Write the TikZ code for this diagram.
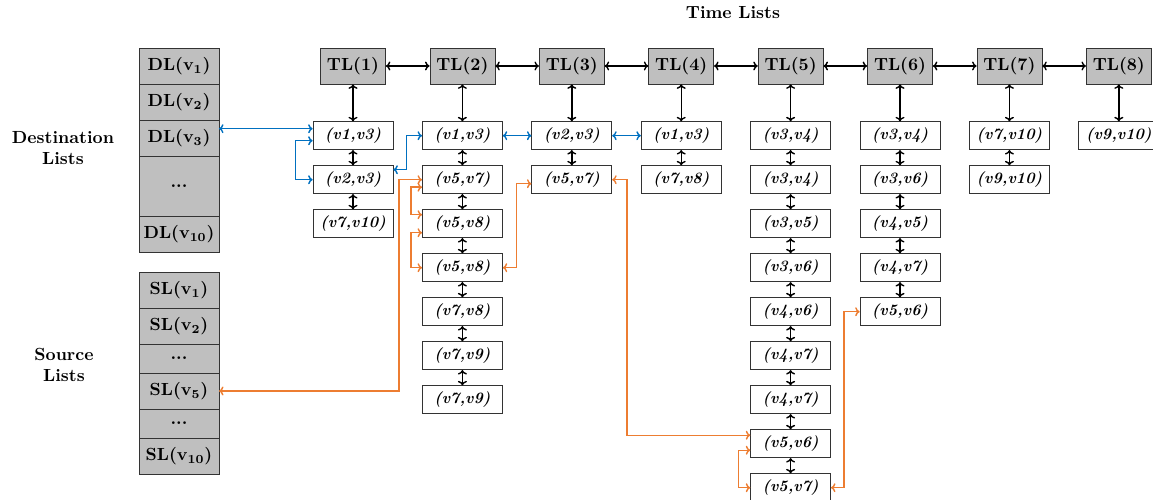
\documentclass[tikz,border=0pt]{standalone}
\usepackage{xcolor}
\usepackage{tikz}
\usetikzlibrary{positioning, arrows.meta}
\definecolor{linkblue}{RGB}{0,112,192}
\definecolor{linkorange}{RGB}{237,125,49}

\begin{document}
\begin{tikzpicture}[
        node distance=0.306cm and 0.874cm,
        tlbox/.style={draw=black!80, fill=gray!50, minimum width=1.3cm, minimum height=0.72cm, inner sep=0pt, font=\bfseries},
        ebox/.style={draw=black!80, minimum width=1.6cm, minimum height=0.56cm, inner sep=0pt, font=\small\bfseries\itshape},
        lbox/.style={draw=black!80, fill=gray!50, minimum width=1.6cm, minimum height=0.72cm, inner sep=0pt, outer sep=0pt, font=\bfseries},
        arrow/.style={<->, >={To[length=0.9mm,width=1.8mm]}, thick},
        blink/.style={arrow, draw=linkblue},
        olink/.style={arrow, draw=linkorange}
    ]
        \useasboundingbox (0,0) rectangle (23.06,-10);

        % Time lists
        \node[font=\bfseries] (title) at (14.66,-0.26) {Time Lists};
        \node[tlbox] (tl1) at (7.06,-1.32) {TL(1)};
        \node[tlbox, right=of tl1] (tl2) {TL(2)};
        \node[tlbox, right=of tl2] (tl3) {TL(3)};
        \node[tlbox, right=of tl3] (tl4) {TL(4)};
        \node[tlbox, right=of tl4] (tl5) {TL(5)};
        \node[tlbox, right=of tl5] (tl6) {TL(6)};
        \node[tlbox, right=of tl6] (tl7) {TL(7)};
        \node[tlbox, right=of tl7] (tl8) {TL(8)};

        % Edges of each time list
        \node[ebox, below=0.74cm of tl1] (e11) {(v1,v3)};
        \node[ebox, below=of e11] (e12) {(v2,v3)};
        \node[ebox, below=of e12] (e13) {(v7,v10)};

        \node[ebox, below=0.74cm of tl2] (e21) {(v1,v3)};
        \node[ebox, below=of e21] (e22) {(v5,v7)};
        \node[ebox, below=of e22] (e23) {(v5,v8)};
        \node[ebox, below=of e23] (e24) {(v5,v8)};
        \node[ebox, below=of e24] (e25) {(v7,v8)};
        \node[ebox, below=of e25] (e26) {(v7,v9)};
        \node[ebox, below=of e26] (e27) {(v7,v9)};

        \node[ebox, below=0.74cm of tl3] (e31) {(v2,v3)};
        \node[ebox, below=of e31] (e32) {(v5,v7)};

        \node[ebox, below=0.74cm of tl4] (e41) {(v1,v3)};
        \node[ebox, below=of e41] (e42) {(v7,v8)};

        \node[ebox, below=0.74cm of tl5] (e51) {(v3,v4)};
        \node[ebox, below=of e51] (e52) {(v3,v4)};
        \node[ebox, below=of e52] (e53) {(v3,v5)};
        \node[ebox, below=of e53] (e54) {(v3,v6)};
        \node[ebox, below=of e54] (e55) {(v4,v6)};
        \node[ebox, below=of e55] (e56) {(v4,v7)};
        \node[ebox, below=of e56] (e57) {(v4,v7)};
        \node[ebox, below=of e57] (e58) {(v5,v6)};
        \node[ebox, below=of e58] (e59) {(v5,v7)};

        \node[ebox, below=0.74cm of tl6] (e61) {(v3,v4)};
        \node[ebox, below=of e61] (e62) {(v3,v6)};
        \node[ebox, below=of e62] (e63) {(v4,v5)};
        \node[ebox, below=of e63] (e64) {(v4,v7)};
        \node[ebox, below=of e64] (e65) {(v5,v6)};

        \node[ebox, below=0.74cm of tl7] (e71) {(v7,v10)};
        \node[ebox, below=of e71] (e72) {(v9,v10)};

        \node[ebox, below=0.74cm of tl8] (e81) {(v9,v10)};

        % Destination and source lists
        \node[font=\bfseries, align=center] (dlabel) at (1.26,-2.96) {Destination\\Lists};
        \node[lbox] (dl1) at (3.58,-1.32) {DL(v\textsubscript{1})};
        \node[lbox, below=0cm of dl1] (dl2) {DL(v\textsubscript{2})};
        \node[lbox, below=0cm of dl2] (dl3) {DL(v\textsubscript{3})};
        \node[lbox, minimum height=1.2cm, below=0cm of dl3] (dldots) {...};
        \node[lbox, below=0cm of dldots] (dl10) {DL(v\textsubscript{10})};

        \node[font=\bfseries, align=center] (slabel) at (1.28,-7.3) {Source\\Lists};
        \node[lbox, below=0.4cm of dl10] (sl1) {SL(v\textsubscript{1})};
        \node[lbox, below=0cm of sl1] (sl2) {SL(v\textsubscript{2})};
        \node[lbox, minimum height=0.58cm, below=0cm of sl2] (sldotsa) {...};
        \node[lbox, below=0cm of sldotsa] (sl5) {SL(v\textsubscript{5})};
        \node[lbox, minimum height=0.58cm, below=0cm of sl5] (sldotsb) {...};
        \node[lbox, below=0cm of sldotsb] (sl10) {SL(v\textsubscript{10})};

        % Paths
        \foreach \a/\b in {tl1/tl2, tl2/tl3, tl3/tl4, tl4/tl5, tl5/tl6, tl6/tl7, tl7/tl8,
                tl1/e11, e11/e12, e12/e13,
                tl2/e21, e21/e22, e22/e23, e23/e24, e24/e25, e25/e26, e26/e27,
                tl3/e31, e31/e32, tl4/e41, e41/e42,
                tl5/e51, e51/e52, e52/e53, e53/e54, e54/e55, e55/e56, e56/e57, e57/e58, e58/e59,
                tl6/e61, e61/e62, e62/e63, e63/e64, e64/e65,
                tl7/e71, e71/e72, tl8/e81}
            \draw[arrow] (\a) -- (\b);

        % Destination links
        \coordinate (b1) at ([yshift=1.4mm]e11.west);
        \draw[blink] (b1 -| dl3.east) -- (b1);
        \draw[blink] ([yshift=-1mm]e11.west) -- ++(-0.34,0) |- (e12.west);
        \draw[blink] ([yshift=2mm]e12.east) -- ++(0.26,0) |- (e21.west);
        \draw[blink] (e21) -- (e31);
        \draw[blink] (e31) -- (e41);

        % Source links
        \coordinate (o1) at ([xshift=-4.6mm]e22.west);
        \draw[olink] (sl5.east) -| (o1) -- (e22.west);
        \draw[olink] ([yshift=-1.5mm]e22.west) -- ++(-0.22,0) |- ([yshift=1.8mm]e23.west);
        \draw[olink] ([yshift=-1.8mm]e23.west) -- ++(-0.22,0) |- (e24.west);
        \draw[olink] (e24.east) -- ++(0.28,0) |- ([yshift=-0.8mm]e32.west);
        \draw[olink] (e32.east) -- ++(0.3,0) |- ([yshift=1.7mm]e58.west);
        \draw[olink] ([yshift=-1.3mm]e58.west) -- ++(-0.24,0) |- (e59.west);
        \draw[olink] (e59.east) -- ++(0.26,0) |- (e65.west);

    \end{tikzpicture}
\end{document}
